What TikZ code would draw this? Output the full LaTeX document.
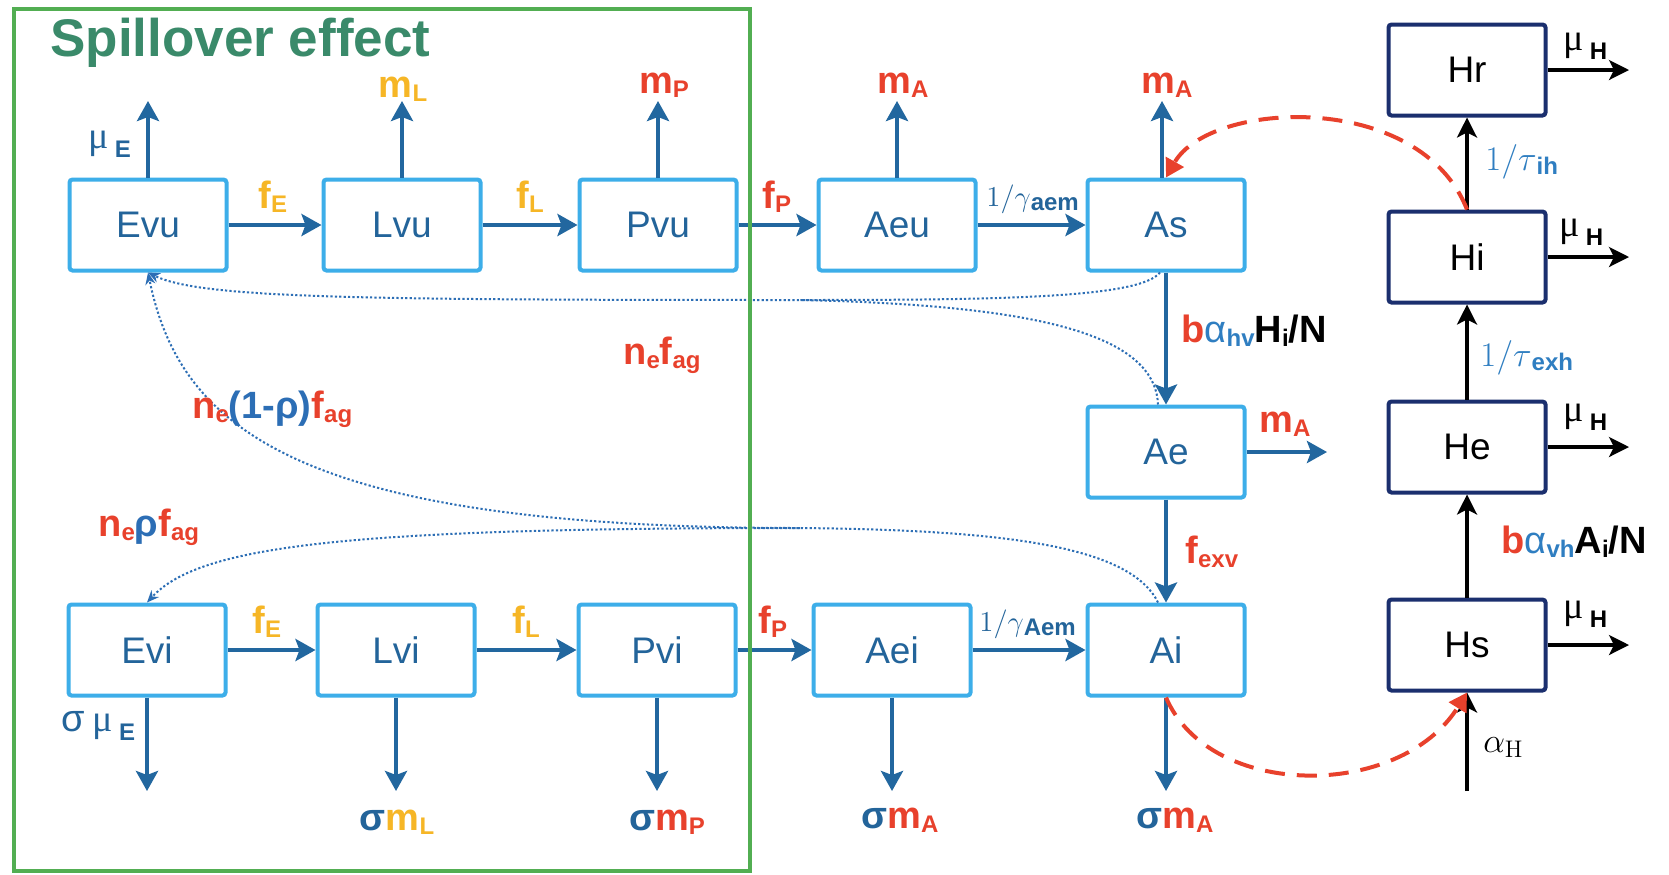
\documentclass[tikz,border=0pt]{standalone}
\usepackage[no-math]{fontspec}
\setmainfont{Liberation Sans}
\newfontfamily\serif{Liberation Serif}
\usetikzlibrary{arrows.meta}

\definecolor{boxblue}{HTML}{3DAEE9}
\definecolor{arrblue}{HTML}{22679F}
\definecolor{txtblue}{HTML}{23649A}
\definecolor{gblue}{HTML}{2F7EC1}
\definecolor{dotblue}{HTML}{2C6EB5}
\definecolor{gold}{HTML}{F6B626}
\definecolor{lred}{HTML}{E8412C}
\definecolor{frameg}{HTML}{52AE52}
\definecolor{titleg}{HTML}{3A8A6A}
\definecolor{navy}{HTML}{1B2F6E}

% label helpers: bold rate symbol, lowered subscript, serif maths, mortality
\newcommand{\lbl}[1]{{\fontsize{19}{22}\selectfont\bfseries #1}}
\newcommand{\sbs}[1]{\raisebox{-2pt}{\fontsize{12}{14}\selectfont\bfseries #1}}
\newcommand{\mth}[1]{{\fontsize{14.4}{18}\selectfont$#1$}}
\newcommand{\bigmth}[1]{{\fontsize{17.28}{20}\selectfont$#1$}}
\newcommand{\mort}[1]{{\serif\fontsize{19}{20}\selectfont μ}\hspace{3pt}\raisebox{-4.5pt}{\fontsize{12}{14}\selectfont\bfseries #1}}

\begin{document}
\begin{tikzpicture}[x=0.5pt,y=-0.5pt,
  bbox/.style={draw=boxblue,line width=2pt,rounded corners=1.5pt,minimum width=78.5pt,minimum height=45.5pt,text=txtblue,font=\fontsize{18.5}{20}\selectfont,inner sep=0pt},
  hbox/.style={bbox,draw=navy,text=black},
  barr/.style={draw=arrblue,line width=2.1pt,-{Stealth[length=10pt,width=11pt,inset=2pt]}},
  karr/.style={draw=black,line width=1.6pt,-{Stealth[length=10pt,width=10pt,inset=2.5pt]}},
  rdash/.style={draw=lred,line width=2pt,dash pattern=on 10pt off 6pt,-{Triangle[length=9pt,width=10pt]}},
  dotl/.style={draw=dotblue,line width=1pt,dash pattern=on 1.1pt off 1.1pt},
  dotarr/.style={dotl,-{Stealth[length=6pt,width=5pt]}},
  lab/.style={inner sep=0pt}
]
\useasboundingbox (0,0) rectangle (1669,874);
\fill[white] (0,0) rectangle (1669,874);

% ---- compartments: vector, uninfected row
\node[bbox] (Evu) at (148,225) {Evu};
\node[bbox] (Lvu) at (402,225) {Lvu};
\node[bbox] (Pvu) at (658,225) {Pvu};
\node[bbox] (Aeu) at (897,225) {Aeu};
\node[bbox] (As)  at (1166,225) {As};
\node[bbox] (Ae)  at (1166,452) {Ae};
% ---- infected row
\node[bbox] (Evi) at (147,650) {Evi};
\node[bbox] (Lvi) at (396,650) {Lvi};
\node[bbox] (Pvi) at (657,650) {Pvi};
\node[bbox] (Aei) at (892,650) {Aei};
\node[bbox] (Ai)  at (1166,650) {Ai};
% ---- host column
\node[hbox] (Hr) at (1467,70) {Hr};
\node[hbox] (Hi) at (1467,257) {Hi};
\node[hbox] (He) at (1467,447) {He};
\node[hbox] (Hs) at (1467,645) {Hs};

% ---- free ends of the outflow arrows
\coordinate (uEvu) at (148,101);
\coordinate (uLvu) at (402,101);
\coordinate (uPvu) at (658,101);
\coordinate (uAeu) at (897,101);
\coordinate (uAs)  at (1162,101);
\coordinate (rAe)  at (1327,452);
\coordinate (dEvi) at (147,791);
\coordinate (dLvi) at (396,791);
\coordinate (dPvi) at (657,791);
\coordinate (dAei) at (892,791);
\coordinate (dAi)  at (1166,791);
\coordinate (rHr) at (1629,70);
\coordinate (rHi) at (1629,257);
\coordinate (rHe) at (1629,447);
\coordinate (rHs) at (1629,645);
\coordinate (inHs) at (1467,791);
\coordinate (jtop) at (800,300);
\coordinate (jbot) at (800,528);

% ---- egg-laying flows (dotted)
\draw[dotarr] ([xshift=-3pt]As.south) .. controls (1140,298) and (1000,300) .. (jtop)
   .. controls (350,300) and (200,298) .. (Evu.south);
\draw[dotl] ([xshift=-4pt]Ae.north) .. controls (1155,335) and (1040,305) .. (jtop);
\draw[dotarr] ([xshift=-4pt]Ai.north) .. controls (1130,545) and (1000,530) .. (jbot)
   .. controls (300,528) and (180,430) .. (Evu.south);
\draw[dotarr] (jbot) .. controls (350,528) and (200,545) .. (Evi.north);

% ---- development chains
\draw[barr] (Evu.east) -- (Lvu.west);
\draw[barr] (Lvu.east) -- (Pvu.west);
\draw[barr] (Pvu.east) -- (Aeu.west);
\draw[barr] (Aeu.east) -- (As.west);
\draw[barr] (Evi.east) -- (Lvi.west);
\draw[barr] (Lvi.east) -- (Pvi.west);
\draw[barr] (Pvi.east) -- (Aei.west);
\draw[barr] (Aei.east) -- (Ai.west);
\draw[barr] (As.south) -- (Ae.north);
\draw[barr] (Ae.south) -- (Ai.north);

% ---- mortality outflows
\draw[barr] (Evu.north) -- (uEvu);
\draw[barr] (Lvu.north) -- (uLvu);
\draw[barr] (Pvu.north) -- (uPvu);
\draw[barr] (Aeu.north) -- (uAeu);
\draw[barr] (As.north -| uAs) -- (uAs);
\draw[barr] (Ae.east) -- (rAe);
\draw[barr] (Evi.south) -- (dEvi);
\draw[barr] (Lvi.south) -- (dLvi);
\draw[barr] (Pvi.south) -- (dPvi);
\draw[barr] (Aei.south) -- (dAei);
\draw[barr] (Ai.south) -- (dAi);

% ---- host progression
\draw[karr] (inHs) -- (Hs.south);
\draw[karr] (Hs.north) -- (He.south);
\draw[karr] (He.north) -- (Hi.south);
\draw[karr] (Hi.north) -- (Hr.south);
\draw[karr] (Hr.east) -- (rHr);
\draw[karr] (Hi.east) -- (rHi);
\draw[karr] (He.east) -- (rHe);
\draw[karr] (Hs.east) -- (rHs);

% ---- transmission between host and vector
\draw[rdash] (Hi.north) .. controls (1420,90) and (1210,100) .. (As.north);
\draw[rdash] (Ai.south) .. controls (1210,800) and (1400,800) .. (Hs.south);

% ---- labels
\node[lab,anchor=base west,text=titleg,font=\fontsize{26.5}{30}\selectfont\bfseries,text depth=0pt] (title) at (50,56) {Spillover effect};

\node[lab,anchor=base west,text=txtblue] (lmuE) at (88,148) {\mort{E}};
\node[lab,anchor=base,text=gold] (lmL) at (403,97) {\lbl{m\sbs{L}}};
\node[lab,anchor=base,text=lred] (lmP) at (664,93) {\lbl{m\sbs{P}}};
\node[lab,anchor=base,text=lred] (lmA1) at (903,93) {\lbl{m\sbs{A}}};
\node[lab,anchor=base,text=lred] (lmA2) at (1167,93) {\lbl{m\sbs{A}}};
\node[lab,anchor=base west,text=gold] (lfE1) at (258,208) {\lbl{f\sbs{E}}};
\node[lab,anchor=base west,text=gold] (lfL1) at (516,208) {\lbl{f\sbs{L}}};
\node[lab,anchor=base west,text=lred] (lfP1) at (762,208) {\lbl{f\sbs{P}}};
\node[lab,anchor=base west,text=txtblue] (lg1) at (986,206) {\mth{1/\gamma}\sbs{aem}};

\node[lab,anchor=base west,text=gold] (lfE2) at (252,633) {\lbl{f\sbs{E}}};
\node[lab,anchor=base west,text=gold] (lfL2) at (512,633) {\lbl{f\sbs{L}}};
\node[lab,anchor=base west,text=lred] (lfP2) at (758,633) {\lbl{f\sbs{P}}};
\node[lab,anchor=base west,text=txtblue] (lg2) at (979,631) {\mth{1/\gamma}\sbs{Aem}};

\node[lab,anchor=base west,text=txtblue] (lsmuE) at (61,731) {{\fontsize{19}{20}\selectfont σ}\hspace{4pt}\mort{E}};
\node[lab,anchor=base] (lsmL) at (397,830) {\lbl{\textcolor{txtblue}{σ}\textcolor{gold}{m\sbs{L}}}};
\node[lab,anchor=base] (lsmP) at (667,830) {\lbl{\textcolor{txtblue}{σ}\textcolor{lred}{m\sbs{P}}}};
\node[lab,anchor=base] (lsmA1) at (900,828) {\lbl{\textcolor{txtblue}{σ}\textcolor{lred}{m\sbs{A}}}};
\node[lab,anchor=base] (lsmA2) at (1175,828) {\lbl{\textcolor{txtblue}{σ}\textcolor{lred}{m\sbs{A}}}};

\node[lab,anchor=base west] (lbite1) at (1181,342) {\lbl{\textcolor{lred}{b}\textcolor{gblue}{\mdseries α\sbs{hv}}H\sbs{i}/N}};
\node[lab,anchor=base west,text=lred] (lmA3) at (1259,432) {\lbl{m\sbs{A}}};
\node[lab,anchor=base west,text=lred] (lfexv) at (1185,563) {\lbl{f\sbs{exv}}};

\node[lab,anchor=base west,text=gblue] (ltih) at (1485,170) {\bigmth{1/\tau}\sbs{ih}};
\node[lab,anchor=base west,text=gblue] (ltexh) at (1480,366) {\bigmth{1/\tau}\sbs{exh}};
\node[lab,anchor=base west] (lbite2) at (1501,553) {\lbl{\textcolor{lred}{b}\textcolor{gblue}{\mdseries α\sbs{vh}}A\sbs{i}/N}};
\node[lab,anchor=base west] (laH) at (1483,752) {{\fontsize{17.28}{20}\selectfont$\alpha_{\mathrm{H}}$}};

\node[lab,anchor=base west] (lmuH1) at (1563,50) {\mort{H}};
\node[lab,anchor=base west] (lmuH2) at (1559,236) {\mort{H}};
\node[lab,anchor=base west] (lmuH3) at (1563,421) {\mort{H}};
\node[lab,anchor=base west] (lmuH4) at (1563,618) {\mort{H}};

\node[lab,anchor=base west,text=lred] (lnef) at (623,364) {\lbl{n\sbs{e}f\sbs{ag}}};
\node[lab,anchor=base west,text=lred] (lne1r) at (192,418) {\lbl{n\sbs{e}\textcolor{dotblue}{(1-ρ)}f\sbs{ag}}};
\node[lab,anchor=base west,text=lred] (lner) at (98,536) {\lbl{n\sbs{e}\textcolor{dotblue}{ρ}f\sbs{ag}}};

% ---- spillover frame
\draw[frameg,line width=2pt] (14,9) rectangle (750,871);
\end{tikzpicture}
\end{document}
